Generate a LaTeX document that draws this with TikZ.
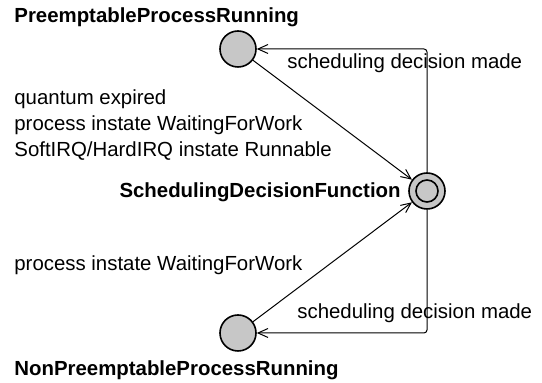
\documentclass[tikz,border=0pt]{standalone}
\usepackage{fontspec}
\setmainfont{Liberation Sans}
\usetikzlibrary{arrows.meta}
\tikzset{
	statestyle/.style={circle,draw=black,line width=0.8pt,fill=white!78!black,minimum size=18pt,inner sep=0pt},
	namestyle/.style={font=\bfseries,inner sep=0pt},
	guardstyle/.style={align=left,inner sep=0pt},
	transstyle/.style={line width=0.5pt,-{Straight Barb[length=5pt,width=4.5pt]}}
}

\begin{document}
\begin{tikzpicture}[x=0.5pt,y=-0.5pt]
	\fontsize{10.2}{13}\selectfont
	\useasboundingbox (0,0) rectangle (542,383);
	\node[statestyle] (prun) at (238,49) {};
	\node[statestyle] (sdf) at (427,191) {};
	\draw[line width=0.8pt] (sdf.center) circle (5.5pt);
	\node[statestyle] (nprun) at (238,333) {};
	\node[namestyle,anchor=west] (prunname) at (14,17) {PreemptableProcessRunning};
	\node[namestyle,anchor=east] (sdfname) at (401,192) {SchedulingDecisionFunction};
	\node[namestyle,anchor=west] (nprunname) at (14,370) {NonPreemptableProcessRunning};
	\node[guardstyle,anchor=west] (prunguard) at (14,125.5) {quantum expired\\process instate WaitingForWork\\SoftIRQ/HardIRQ instate Runnable};
	\node[guardstyle,anchor=west] (nprunguard) at (14,265) {process instate WaitingForWork};
	\node[guardstyle,anchor=west] (topdone) at (287,63) {scheduling decision made};
	\node[guardstyle,anchor=west] (botdone) at (297,313) {scheduling decision made};
	\draw[transstyle] (prun)--(sdf);
	\draw[transstyle] (nprun)--(sdf);
	\draw[transstyle,rounded corners=1.5pt] (sdf.north)|-(prun);
	\draw[transstyle,rounded corners=1.5pt] (sdf.south)|-(nprun);
\end{tikzpicture}
\end{document}
